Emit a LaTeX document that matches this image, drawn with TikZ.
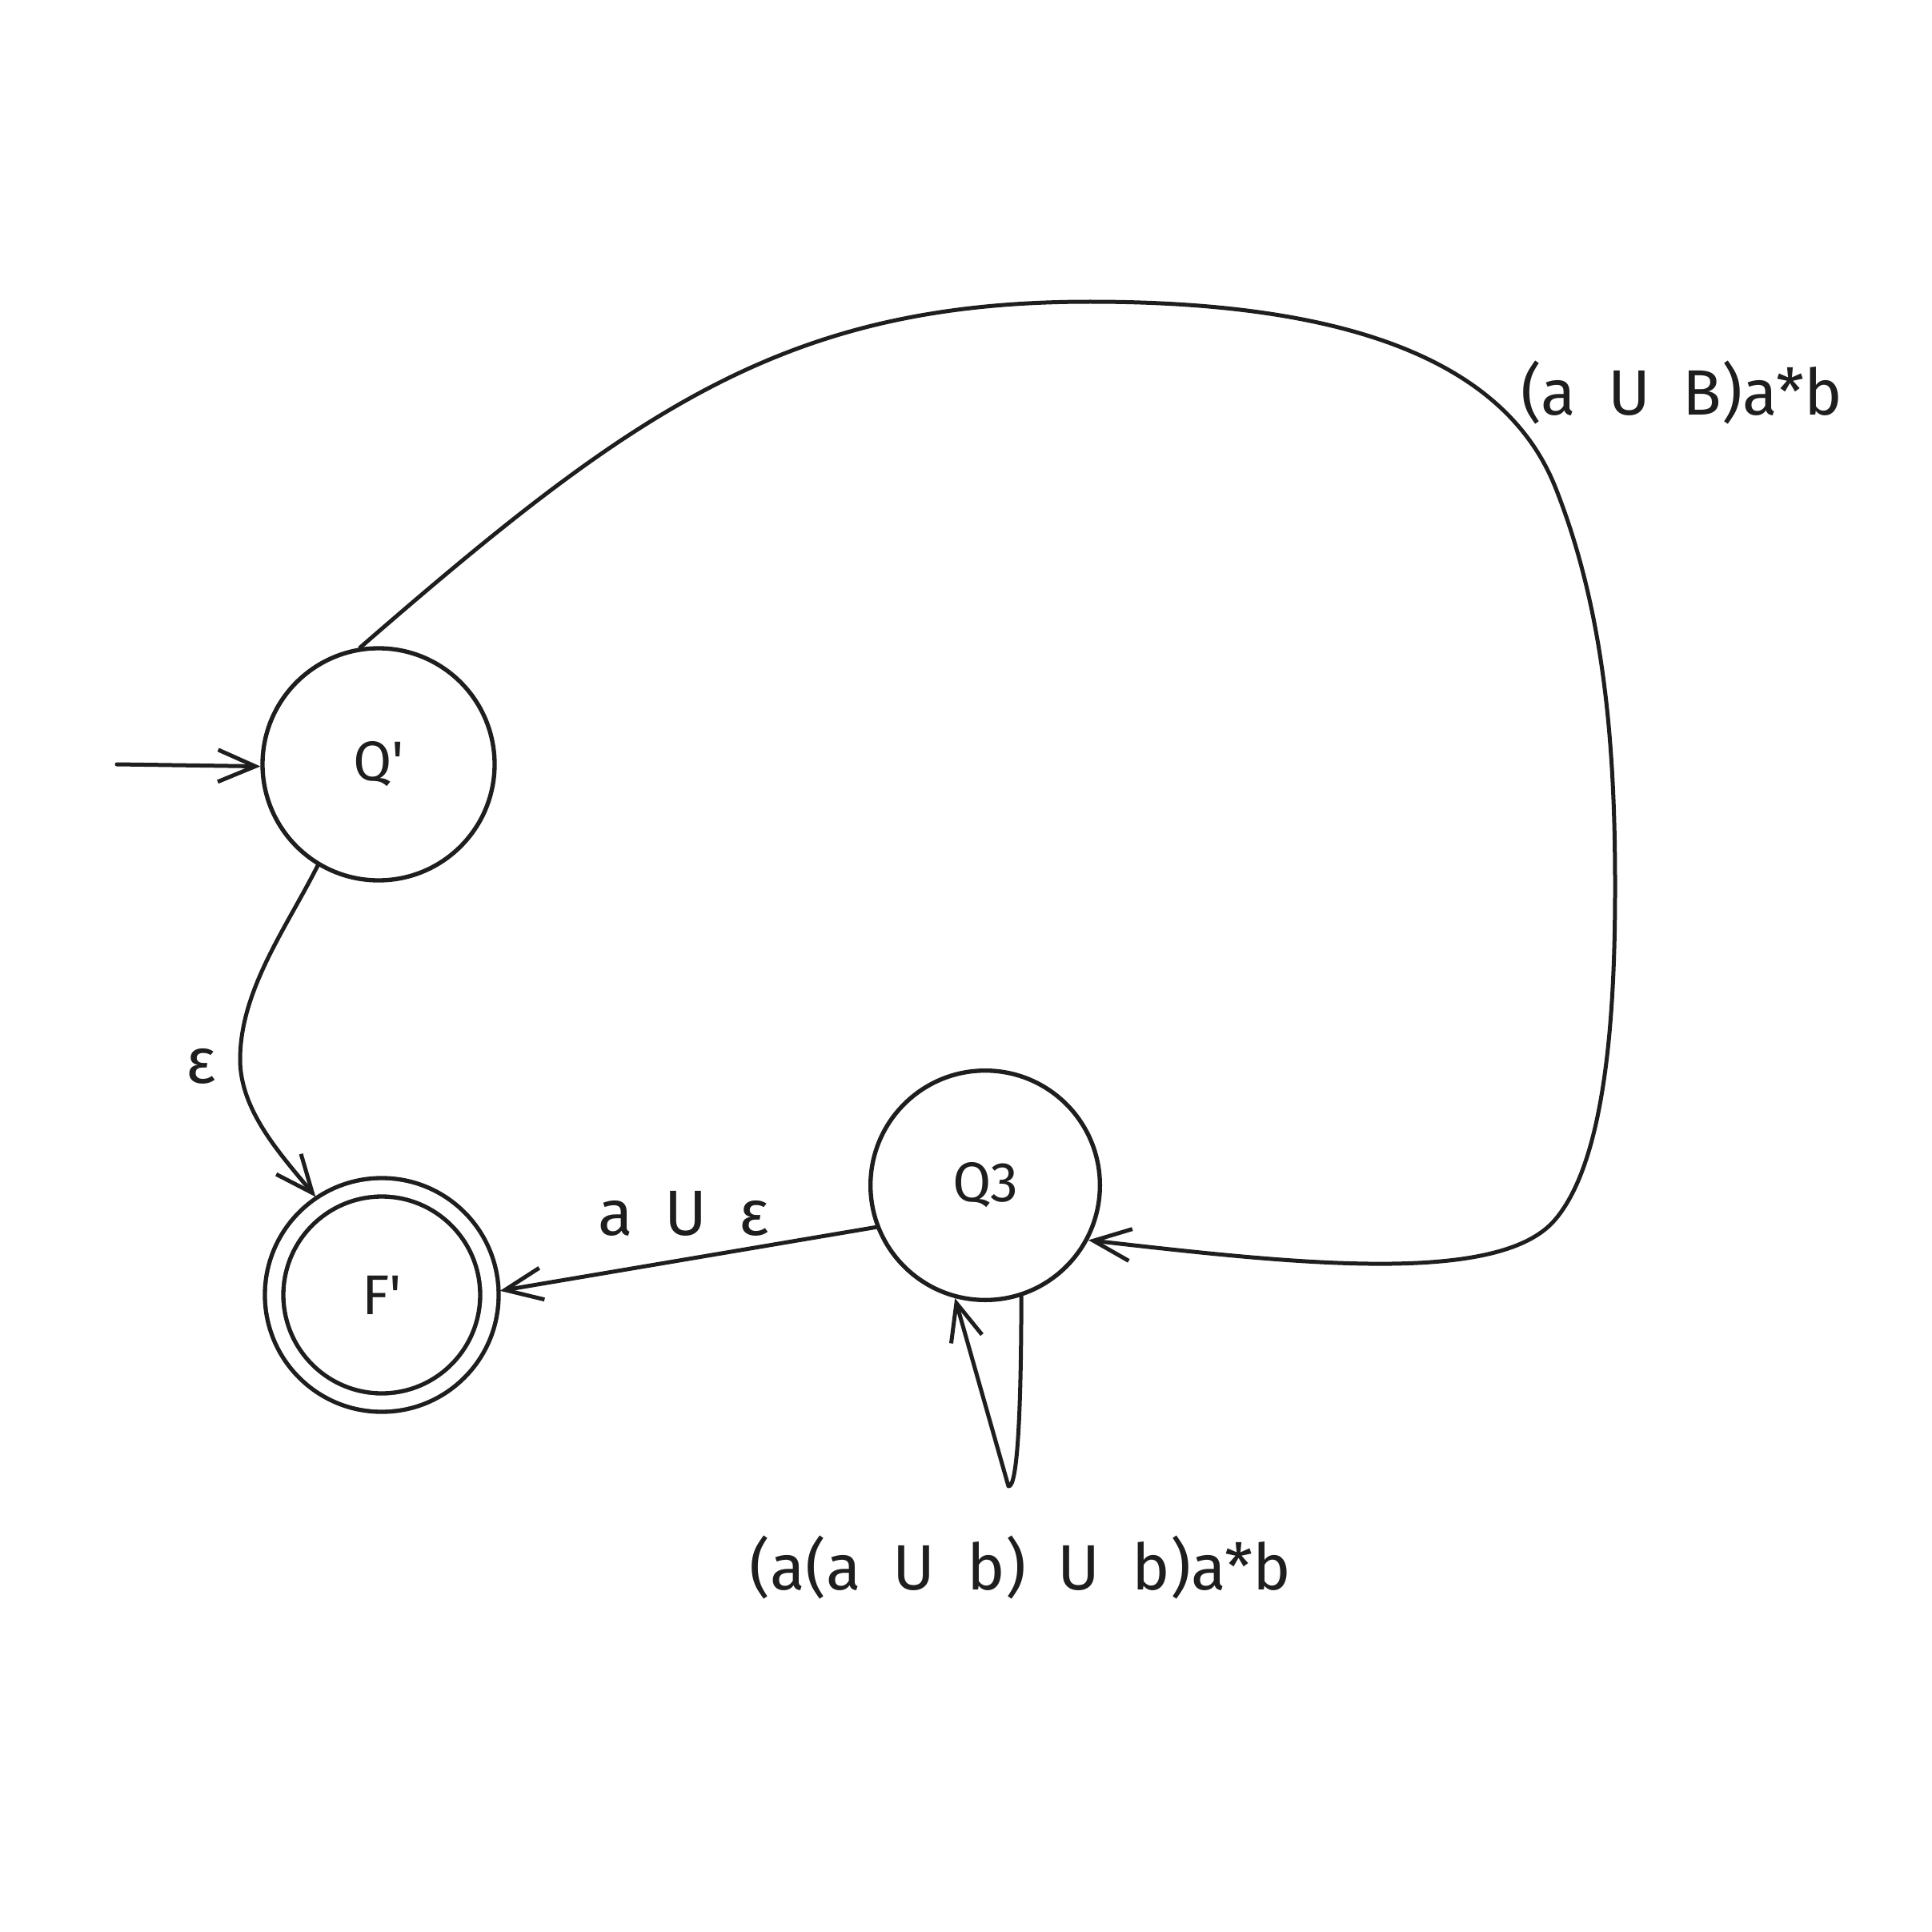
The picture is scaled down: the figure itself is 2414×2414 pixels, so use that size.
\documentclass[tikz,border=0pt]{standalone}
\usepackage{fontspec}
\setmainfont{Fira Sans}
\usetikzlibrary{arrows.meta}
\definecolor{ink}{HTML}{1E1E1E}
\newcommand\gp{\hspace{0.5em}}
\begin{document}
\begin{tikzpicture}[x=0.3pt,y=-0.3pt,
  state/.style={circle, draw=ink, line width=1.6pt, inner sep=0pt, text=ink, font=\fontsize{21}{25}\selectfont},
  lbl/.style={font=\fontsize{24}{28}\selectfont, text=ink, inner sep=0pt},
  arr/.style={-{Straight Barb[length=14pt,width=12pt]}, line width=1.5pt, draw=ink, line cap=round, line join=round}]
\fill[white] (0,0) rectangle (2414,2414);
\useasboundingbox (0,0) rectangle (2414,2414);

\node[state, minimum size=87pt] (q1) at (473,955) {Q\textquotesingle};
\node[state, minimum size=80.7pt, double=white, double distance=5.3pt, outer sep=4pt] (f) at (477,1618) {F\textquotesingle};
\node[state, minimum size=86pt] (q3) at (1231,1481) {Q3};

\coordinate (s) at (146,955);
\draw[arr] (s) -- (q1.181);
\draw[arr] (q1.-121) .. controls (358,1159) and (300,1237) .. (300,1324)
  .. controls (300,1388) and (352,1444) .. (f.124);
\draw[arr] (q3.201) -- (f.2);
\draw[arr] (q1.99) .. controls (792,512) and (982,377) .. (1362,377)
  .. controls (1662,377) and (1876,441) .. (1943,608)
  .. controls (2006,766) and (2018,938) .. (2018,1108)
  .. controls (2018,1258) and (2008,1448) .. (1943,1524)
  .. controls (1872,1608) and (1610,1578) .. (q3.-28);
\draw[arr] (q3.-72) .. controls (1276,1750) and (1272,1860) .. (1260,1857) -- (q3.-105);

\node[lbl] (e1) at (251,1332) {ε};
\node[lbl] (e2) at (854,1516) {a\gp U\gp ε};
\node[lbl] (e3) at (2101,490) {(a\gp U\gp B)a*b};
\node[lbl] (e4) at (1275,1958) {(a(a\gp U\gp b)\gp U\gp b)a*b};
\end{tikzpicture}
\end{document}
